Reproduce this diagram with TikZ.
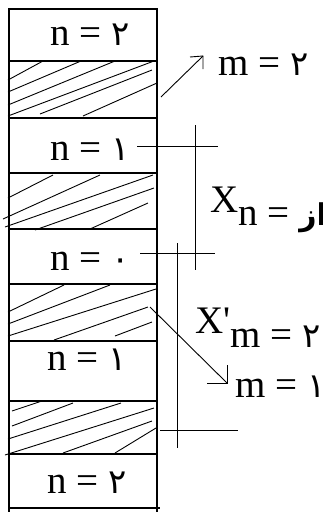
\documentclass[tikz,border=0pt]{standalone}
\usepackage{fontspec}
\setmainfont{Liberation Serif}
\newfontfamily\arabicfont[Script=Arabic]{DejaVu Sans}
\TeXXeTstate=1
\newcommand{\ad}[1]{{\fontsize{34}{38}\arabicfont #1}}
\begin{document}
\begin{tikzpicture}[x=1pt,y=-1pt,
  border/.style={line width=1.5pt},
  cellbox/.style={draw, line width=1.5pt, minimum width=148pt, inner sep=0pt, outer sep=0pt},
  hatch/.style={line width=0.9pt},
  conn/.style={line width=0.9pt},
  lbl/.style={inner sep=0pt, anchor=base west, font=\fontsize{39}{42}\selectfont},
]
\useasboundingbox (0,0) rectangle (323,512);
% cells
\node[cellbox, minimum height=52pt] (c1) at (83,35) {};
\node[cellbox, minimum height=57pt] (h1) at (83,89.5) {};
\node[cellbox, minimum height=55pt] (c2) at (83,145.5) {};
\node[cellbox, minimum height=56pt] (h2) at (83,201) {};
\node[cellbox, minimum height=55pt] (c3) at (83,256.5) {};
\node[cellbox, minimum height=57pt] (h3) at (83,312.5) {};
\node[cellbox, minimum height=60pt] (c4) at (83,371) {};
\node[cellbox, minimum height=53pt] (h4) at (83,427.5) {};
\node[cellbox, minimum height=54pt] (c5) at (83,481) {};
\draw[border] (c5.south west) -- ++(0,5);
\draw[border] (c5.south east) -- ++(0,5);
\draw[border] (c5.south east) -- ++(3,0);
% hatching
\draw[hatch] (8,80)--(43,61) (8,92)--(81,61) (8,105)--(115,61) (8,116)--(154,61)
  (40,114)--(152,70) (83,116)--(157,83);
\draw[hatch] (8,198)--(53,175) (3,219)--(100,175) (5,227)--(153,175)
  (35,230)--(154,188) (90,229)--(148,203);
\draw[hatch] (8,312)--(64,285) (8,324)--(110,285) (8,336)--(156,289)
  (54,340)--(148,307) (115,336)--(152,322);
\draw[hatch] (12,411)--(42,401) (12,426)--(73,403) (8,439)--(121,403)
  (5,455)--(154,408) (63,453)--(152,421) (115,453)--(156,428);
% labels
\node[lbl] (t1) at (50,45) {n = \ad{٢}};
\node[lbl] (m2) at (218,75) {m = \ad{٢}};
\node[lbl] (t2) at (50,160) {n = \ad{١}};
\node[lbl] (xn) at (210,212) {X\raisebox{-13pt}{n = {\fontsize{30}{34}\arabicfont\bfseries\beginR از\endR}}};
\node[lbl] (t3) at (50,270) {n = \ad{٠}};
\node[lbl] (xm) at (195,333) {X\textquotesingle\raisebox{-14pt}{m = \ad{٢}}};
\node[lbl] (t4) at (47,370) {n = \ad{١}};
\node[lbl] (m1) at (235,397) {m = \ad{١}};
\node[lbl] (t5) at (47,493) {n = \ad{٢}};
% connectors
\coordinate (a1s) at (161,97);
\coordinate (a1e) at (203,56);
\draw[conn] (a1s) -- (a1e);
\draw[conn] (190,57) -- (a1e) -- (203,69);
\coordinate (l1a) at (137,146);
\coordinate (l1b) at (218,146);
\draw[conn] (l1a) -- (l1b);
\coordinate (v1a) at (195,125);
\coordinate (v1b) at (195,270);
\draw[conn] (v1a) -- (v1b);
\coordinate (l2a) at (140,253);
\coordinate (l2b) at (215,253);
\draw[conn] (l2a) -- (l2b);
\coordinate (v2a) at (177,243);
\coordinate (v2b) at (177,448);
\draw[conn] (v2a) -- (v2b);
\coordinate (l3a) at (160,430);
\coordinate (l3b) at (238,430);
\draw[conn] (l3a) -- (l3b);
\coordinate (a2s) at (150,307);
\coordinate (a2e) at (227,383);
\draw[conn] (a2s) -- (a2e);
\draw[conn] (207,383) -- (a2e) -- (227,365);
\end{tikzpicture}
\end{document}
